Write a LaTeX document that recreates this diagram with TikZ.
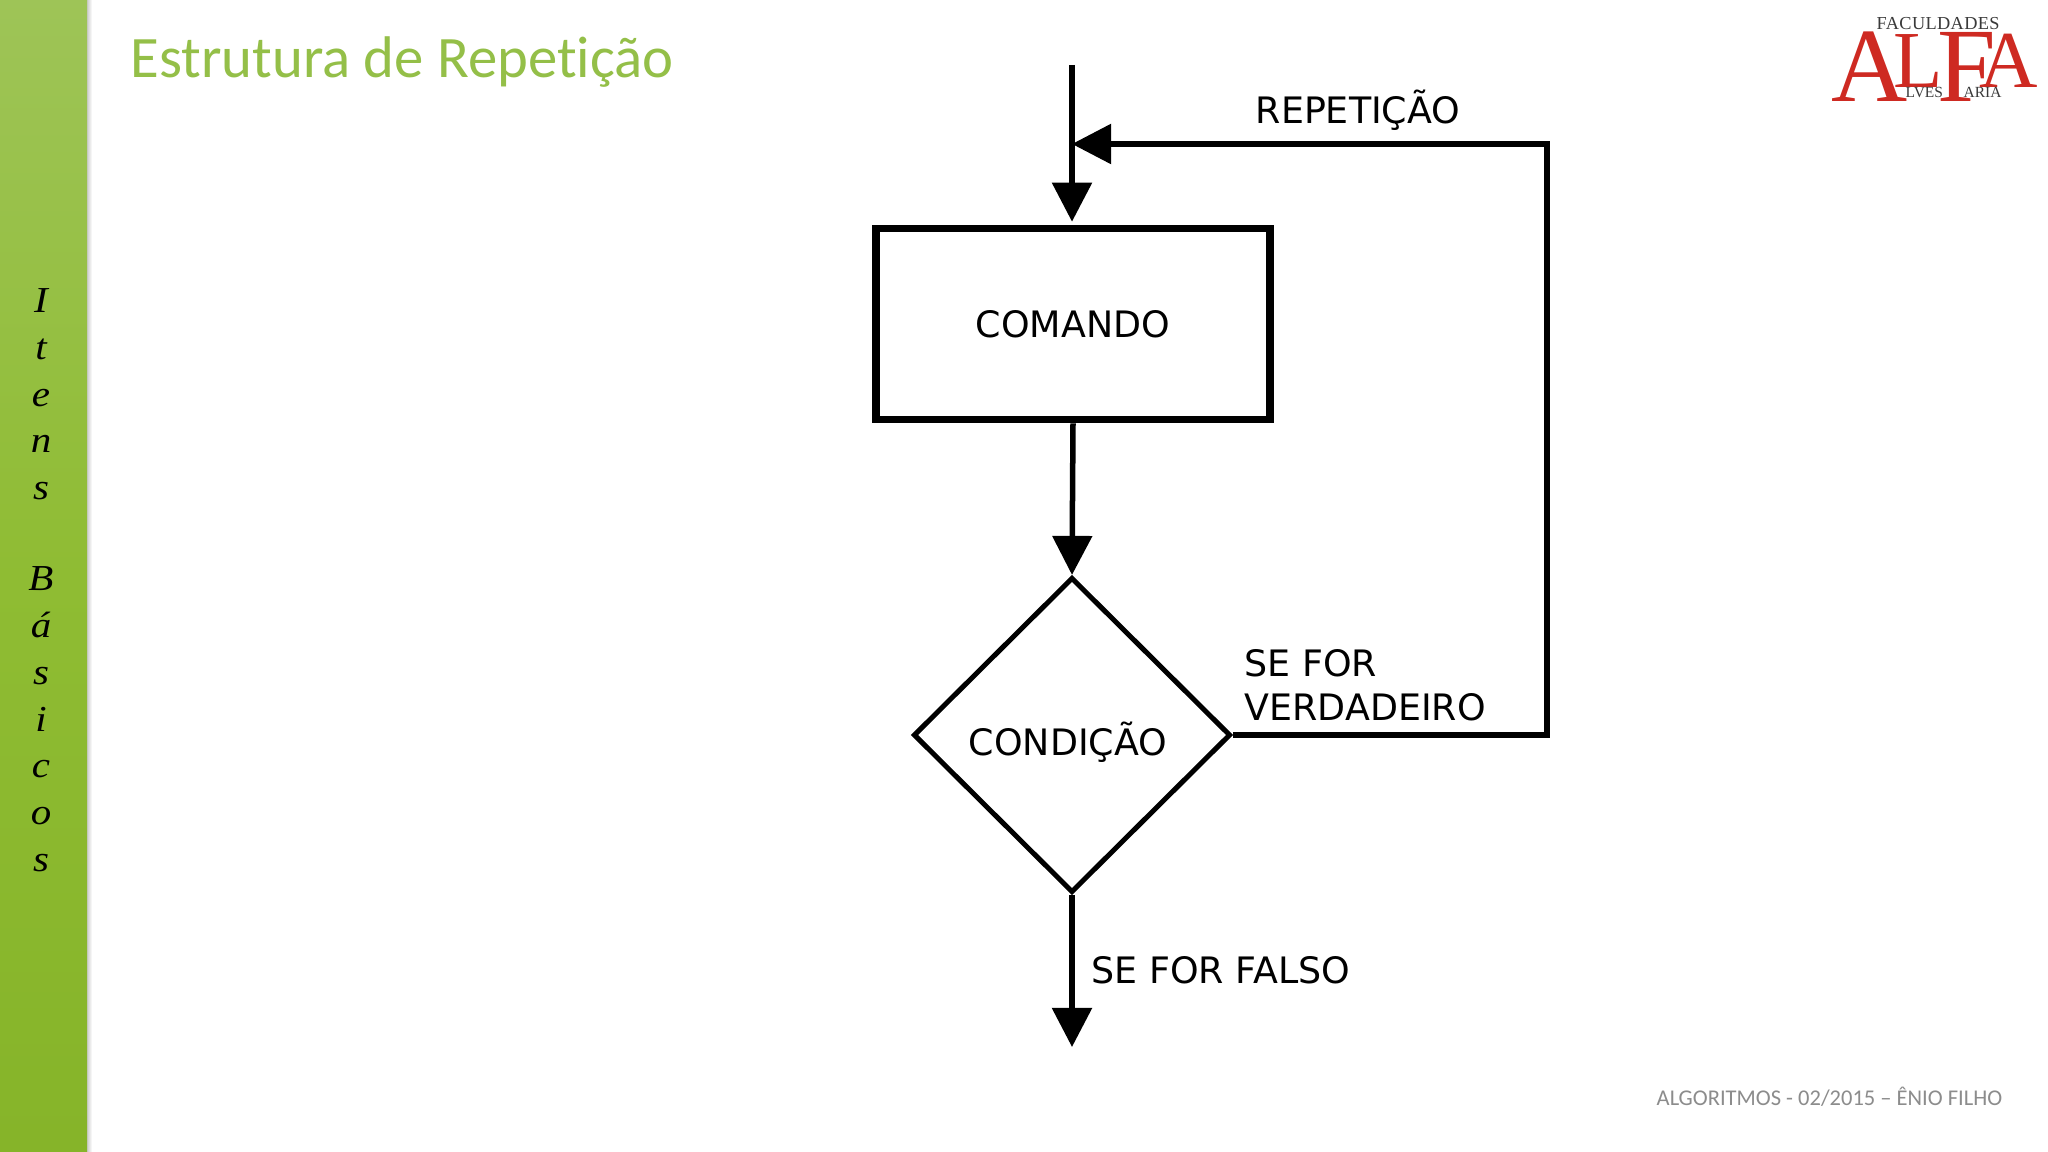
\documentclass[tikz,border=0pt]{standalone}
\usepackage{fontspec}
\usetikzlibrary{arrows.meta, shapes.geometric, positioning, calc}
\setmainfont{Liberation Serif}
\newfontfamily\slidefont[Ligatures=NoCommon]{Carlito}
\newfontfamily\flowfont{DejaVu Sans}
\newfontfamily\logofont{Liberation Serif}
\newfontfamily\logospaced[LetterSpace=2]{Liberation Serif}
\newfontfamily\sidefont[FakeStretch=1.12,ItalicFont=Liberation Serif Italic]{Liberation Serif}
\definecolor{barlight}{HTML}{9EC457}
\definecolor{barmid}{HTML}{8FBC33}
\definecolor{bardark}{HTML}{86B429}
\definecolor{titlegreen}{HTML}{94BF48}
\definecolor{footgray}{HTML}{8C8C8C}
\definecolor{logored}{HTML}{CE2A22}
\definecolor{logogray}{HTML}{3A3A3A}
\tikzset{
  flowline/.style={line width=0.55mm, -{Triangle[length=3.9mm, width=3.9mm]}},
  cmdbox/.style={draw=black, line width=0.75mm, rectangle, minimum width=39.4mm, minimum height=19.1mm, inner sep=0pt},
  conddiamond/.style={draw=black, line width=0.5mm, diamond, aspect=1, minimum width=31.7mm, minimum height=31.5mm, inner sep=0pt},
  flowtext/.style={font=\flowfont\fontsize{10.35pt}{12.7pt}\selectfont, inner sep=0pt, text=black},
  logobig/.style={font=\logofont\fontsize{30pt}{30pt}\selectfont, text=logored, anchor=base west, inner sep=0pt},
  logomid/.style={font=\logofont\fontsize{23pt}{23pt}\selectfont, text=logored, anchor=base west, inner sep=0pt},
  logosmall/.style={font=\logospaced\fontsize{5.2pt}{6pt}\selectfont, text=logogray, anchor=base west, inner sep=0pt},
  logotiny/.style={font=\logofont\fontsize{4.4pt}{5pt}\selectfont, text=logogray, anchor=base west, inner sep=0pt},
}

\begin{document}
\begin{tikzpicture}[x=0.01cm, y=-0.01cm]
  \useasboundingbox (0, 0) rectangle (2048, 1152);
  \fill[white] (0, 0) rectangle (2048, 1152);

  % side bar
  \shade[left color=black!20, right color=white] (87, 0) rectangle (92, 1152);
  \shade[top color=barlight, bottom color=bardark, middle color=barmid] (0, 0) rectangle (87, 1152);
  \node[font=\sidefont\itshape\fontsize{10.4pt}{13.3pt}\selectfont, align=center, inner sep=0pt, anchor=north] (sidetext) at (41, 288)
    {I\\t\\e\\n\\s\\[12.6pt]B\\á\\s\\i\\c\\o\\s};

  % heading and footer
  \node[font=\slidefont\fontsize{16.7pt}{18pt}\selectfont, text=titlegreen, anchor=base west, inner sep=0pt] (title) at (130, 78) {Estrutura de Repetição};
  \node[font=\slidefont\fontsize{6.4pt}{8pt}\selectfont, text=footgray, anchor=base east, inner sep=0pt] (footer) at (2003, 1105) {ALGORITMOS - 02/2015 – ÊNIO FILHO};

  % logo
  \node[logobig] (logoa) at (1831, 102) {A};
  \node[logomid] (logol) at (1893, 88) {L};
  \node[logobig] (logof) at (1937, 102) {F};
  \node[logomid] (logob) at (1979, 88) {A};
  \node[logosmall] (logotop) at (1876, 30) {FACULDADES};
  \node[logotiny] (logoleft) at (1905, 98) {LVES};
  \node[logotiny] (logoright) at (1963, 98) {ARIA};

  % flow chart
  \coordinate (start) at (1072, 65);
  \coordinate (join) at (1072, 144);
  \node[cmdbox] (cmd) at (1073, 324) {};
  \node[flowtext] (cmdtext) at (1073, 324) {COMANDO};
  \node[conddiamond] (cond) at (1072, 735) {};
  \node[flowtext] (condtext) at (1068, 742) {CONDIÇÃO};
  \coordinate (corner) at (1547, 735);
  \coordinate (topcorner) at (1547, 144);
  \coordinate (end) at (1072, 1047);

  \draw[flowline, shorten >=0.3mm] (start) -- (cmd.north -| start);
  \draw[flowline] (cmd.south) -- (cond.north);
  \draw[flowline] (cond.east) -- (corner) -- (topcorner) -- (join);
  \draw[flowline] (cond.south) -- (end);

  \node[flowtext] (reptext) at (1358, 110) {REPETIÇÃO};
  \node[flowtext, align=left, anchor=south west] (truetext) at (1244, 722) {SE FOR\\VERDADEIRO};
  \node[flowtext, anchor=west] (falsetext) at (1091, 970) {SE FOR FALSO};
\end{tikzpicture}
\end{document}
